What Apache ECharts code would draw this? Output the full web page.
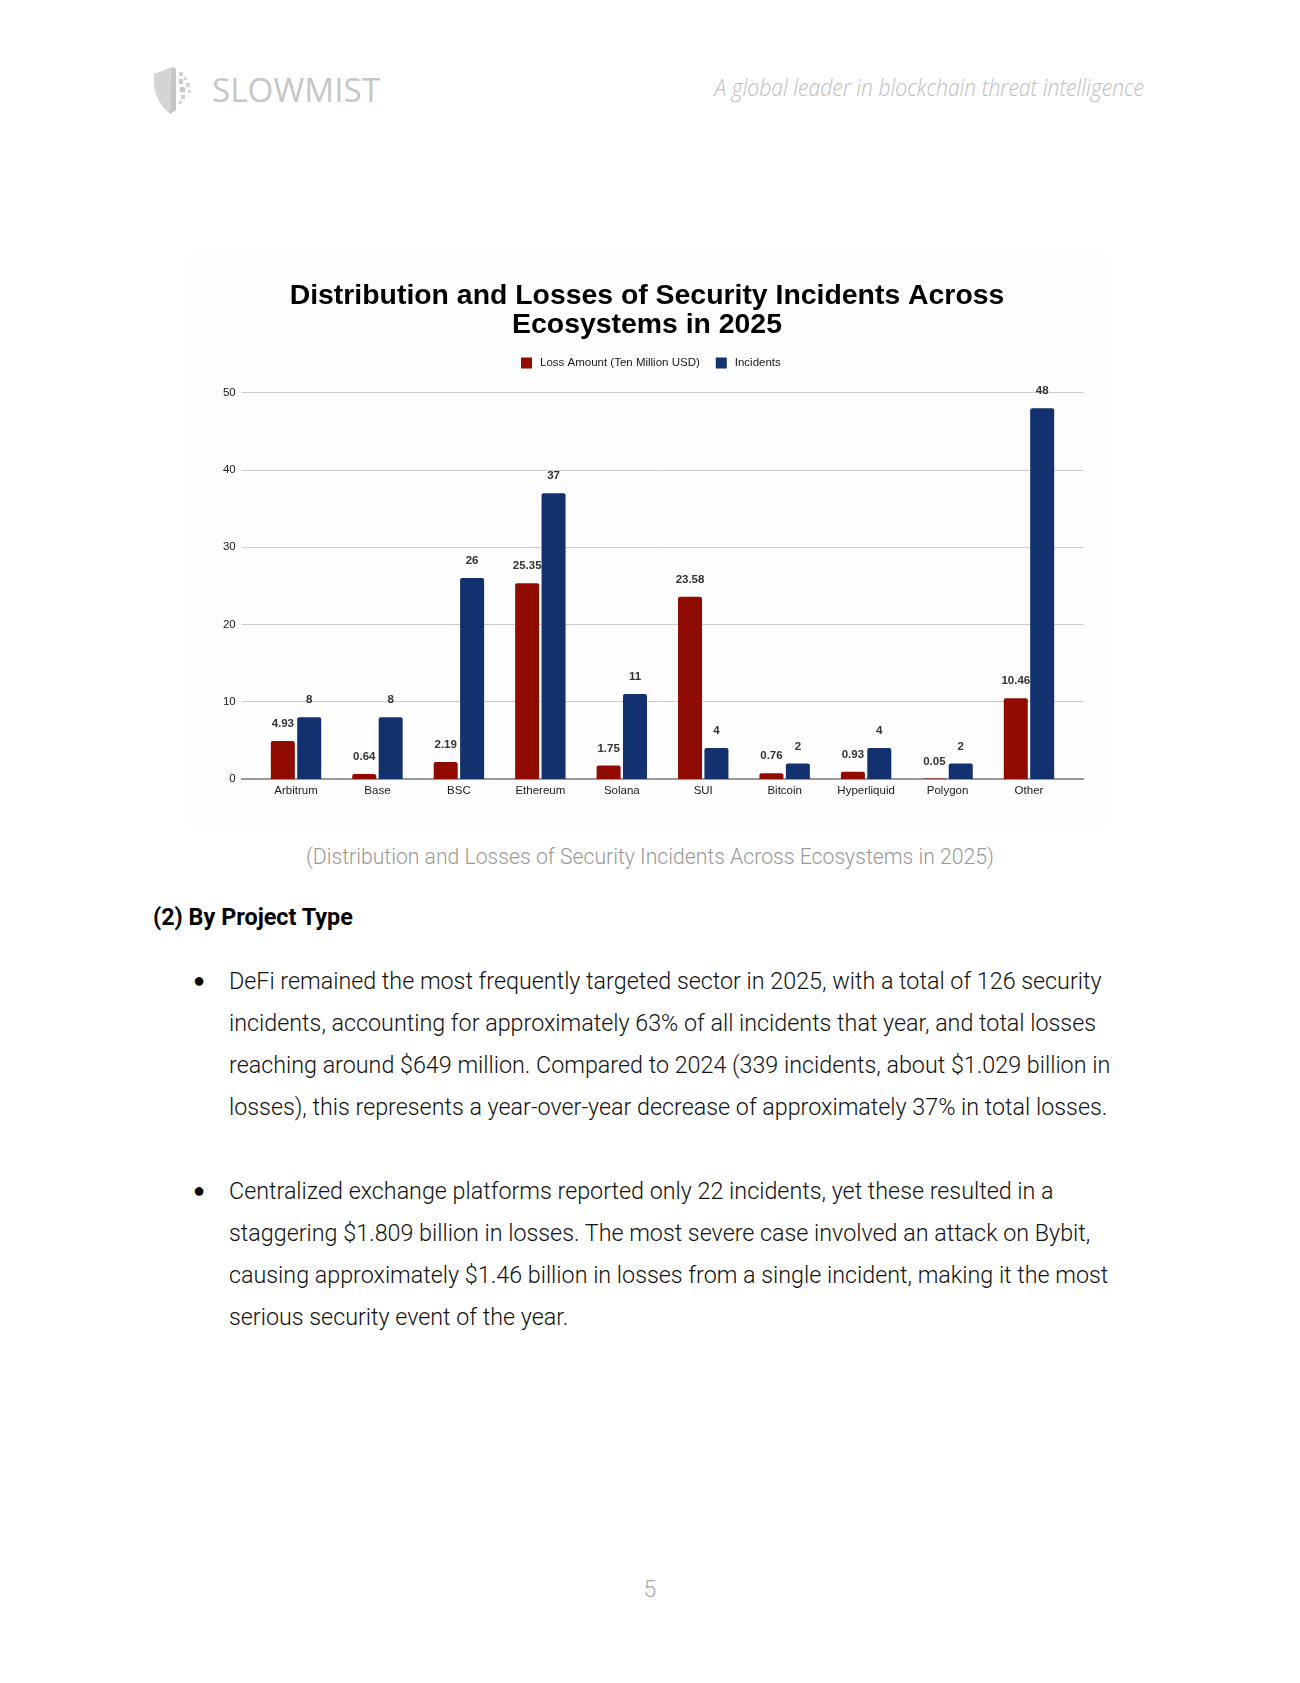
<!DOCTYPE html>
<html>
<head>
<meta charset="utf-8">
<script src="https://cdn.jsdelivr.net/npm/echarts@6/dist/echarts.min.js"></script>
<style>
  html, body { margin: 0; padding: 0; background: #fff; }
  .page { position: relative; width: 1300px; height: 1683px; overflow: hidden; }
  .tagline {
    position: absolute; right: 156px; top: 70px;
    font-family: 'Open Sans', sans-serif; font-style: italic; font-weight: 300;
    font-size: 24px; color: #bdbdbd; white-space: nowrap;
    transform-origin: right center; transform: scaleX(0.88);
  }
  .logo { position: absolute; left: 150px; top: 62px; }
  #chart { position: absolute; left: 188px; top: 254px; width: 918px; height: 573px; }
  .caption {
    position: absolute; left: 0; width: 1300px; top: 842px; text-align: center;
    font-family: Roboto, sans-serif; font-weight: 300; font-size: 21.2px; line-height: 30px; color: #999;
  }
  .heading {
    position: absolute; left: 153px; top: 902px;
    font-family: Roboto, sans-serif; font-weight: 700; font-size: 23.4px; line-height: 30px; color: #000;
  }
  .para {
    position: absolute; left: 229px;
    font-family: Roboto, sans-serif; font-weight: 300; font-size: 23.3px; line-height: 42px; color: #111;
    white-space: nowrap;
  }
  .bullet { position: absolute; left: -36px; top: -1px; font-family: 'DejaVu Sans', sans-serif; font-size: 20px; color: #000; }
  .pageno {
    position: absolute; left: 0; width: 1300px; top: 1575px; text-align: center;
    font-family: Roboto, sans-serif; font-weight: 300; font-size: 23px; line-height: 30px; color: #aaa;
  }
</style>
</head>
<body>
<div class="page">
  <svg class="logo" width="240" height="56" viewBox="0 0 240 56">
    <path d="M4 12 L22 5 L26 7 L26 48 L20 52 Q6 40 4 24 Z" fill="#d4d4d4"/>
    <path d="M22 5 L26 7 L26 48 L20 52 Z" fill="#c4c4c4"/>
    <rect x="29" y="10" width="4" height="4" fill="#cfcfcf"/>
    <rect x="34" y="15" width="3" height="3" fill="#d6d6d6"/>
    <rect x="29" y="17" width="4" height="5" fill="#c9c9c9"/>
    <rect x="36" y="21" width="4" height="4" fill="#d2d2d2"/>
    <rect x="30" y="25" width="5" height="5" fill="#c6c6c6"/>
    <rect x="38" y="28" width="3" height="3" fill="#d8d8d8"/>
    <rect x="31" y="33" width="4" height="4" fill="#cdcdcd"/>
    <rect x="29" y="39" width="3" height="3" fill="#d6d6d6"/>
    <text x="62" y="40" font-family="'Open Sans'" font-weight="400" font-size="33" fill="#c6c6c6"
          textLength="168" lengthAdjust="spacingAndGlyphs">SLOWMIST</text>
  </svg>
  <div class="tagline">A global leader in blockchain threat intelligence</div>

  <div id="chart"></div>

  <div class="caption">(Distribution and Losses of Security Incidents Across Ecosystems in 2025)</div>
  <div class="heading">(2) By Project Type</div>

  <div class="para" style="top:960px">
    <span class="bullet">●</span>
    DeFi remained the most frequently targeted sector in 2025, with a total of 126 security<br>
    incidents, accounting for approximately 63% of all incidents that year, and total losses<br>
    reaching around $649 million. Compared to 2024 (339 incidents, about $1.029 billion in<br>
    losses), this represents a year-over-year decrease of approximately 37% in total losses.
  </div>
  <div class="para" style="top:1170px">
    <span class="bullet">●</span>
    Centralized exchange platforms reported only 22 incidents, yet these resulted in a<br>
    staggering $1.809 billion in losses. The most severe case involved an attack on Bybit,<br>
    causing approximately $1.46 billion in losses from a single incident, making it the most<br>
    serious security event of the year.
  </div>

  <div class="pageno">5</div>
</div>

<script>
// chart data
const categories = ['Arbitrum', 'Base', 'BSC', 'Ethereum', 'Solana', 'SUI', 'Bitcoin', 'Hyperliquid', 'Polygon', 'Other']
const lossAmount = [4.93, 0.64, 2.19, 25.35, 1.75, 23.58, 0.76, 0.93, 0.05, 10.46]
const incidents = [8, 8, 26, 37, 11, 4, 2, 4, 2, 48]
const seriesNames = ['Loss Amount (Ten Million USD)', 'Incidents']
const yMin = 0
const yMax = 50
const yStep = 10

const colors = {
  loss: '#900c00',
  incidents: '#13306f',
  text: '#1a1a1a',
  label: '#333',
  grid: '#cccccc',
  baseline: '#999999'
}
const chartFont = "'Liberation Sans', Arial, sans-serif"

const chart = echarts.init(document.getElementById('chart'), null, { renderer: 'canvas' })

const barLabel = {
  show: true,
  position: 'top',
  distance: 11,
  fontFamily: chartFont,
  fontSize: 11.5,
  fontWeight: 'bold',
  color: colors.label
}

const option = {
  backgroundColor: '#fdfdfd',
  animation: false,
  title: {
    text: 'Distribution and Losses of Security Incidents Across\nEcosystems in 2025',
    left: 'center',
    top: 28,
    padding: [0, 0, 0, 6],
    textStyle: {
      fontFamily: chartFont,
      fontSize: 28.4,
      fontWeight: 'bold',
      color: '#000',
      lineHeight: 28.5
    }
  },
  legend: {
    data: seriesNames,
    left: 333,
    top: 103,
    padding: 0,
    icon: 'rect',
    itemWidth: 11,
    itemHeight: 11,
    itemGap: 16,
    textStyle: {
      fontFamily: chartFont,
      fontSize: 11.5,
      color: colors.text,
      padding: [0, 0, 0, 3]
    }
  },
  grid: [
    // wide frame: gridlines and baseline
    { left: 53.7, right: 22.7, top: 138.7, bottom: 48 },
    // bars
    { left: 67.3, right: 36.3, top: 138.7, bottom: 48 }
  ],
  xAxis: [
    {
      gridIndex: 0,
      type: 'category',
      data: categories,
      axisLine: { lineStyle: { color: colors.baseline, width: 2 } },
      axisTick: { show: false },
      axisLabel: { show: false },
      splitLine: { show: false }
    },
    {
      gridIndex: 1,
      type: 'category',
      data: categories,
      axisLine: { show: false },
      axisTick: { show: false },
      axisLabel: {
        margin: 6,
        fontFamily: chartFont,
        fontSize: 11.5,
        color: colors.text,
        interval: 0
      }
    }
  ],
  yAxis: [
    {
      gridIndex: 0,
      type: 'value',
      min: yMin,
      max: yMax,
      interval: yStep,
      axisLine: { show: false },
      axisTick: { show: false },
      axisLabel: {
        margin: 6,
        fontFamily: chartFont,
        fontSize: 11.5,
        color: colors.text
      },
      splitLine: { lineStyle: { color: colors.grid, width: 1 } }
    },
    {
      gridIndex: 1,
      type: 'value',
      min: yMin,
      max: yMax,
      show: false
    }
  ],
  series: [
    {
      name: seriesNames[0],
      type: 'bar',
      xAxisIndex: 1,
      yAxisIndex: 1,
      data: lossAmount,
      barWidth: 24,
      barGap: '10%',
      itemStyle: { color: colors.loss, borderRadius: [2, 2, 0, 0] },
      label: barLabel
    },
    {
      name: seriesNames[1],
      type: 'bar',
      xAxisIndex: 1,
      yAxisIndex: 1,
      data: incidents,
      barWidth: 24,
      barGap: '10%',
      itemStyle: { color: colors.incidents, borderRadius: [2, 2, 0, 0] },
      label: barLabel
    }
  ]
}

chart.setOption(option)
</script>
</body>
</html>
